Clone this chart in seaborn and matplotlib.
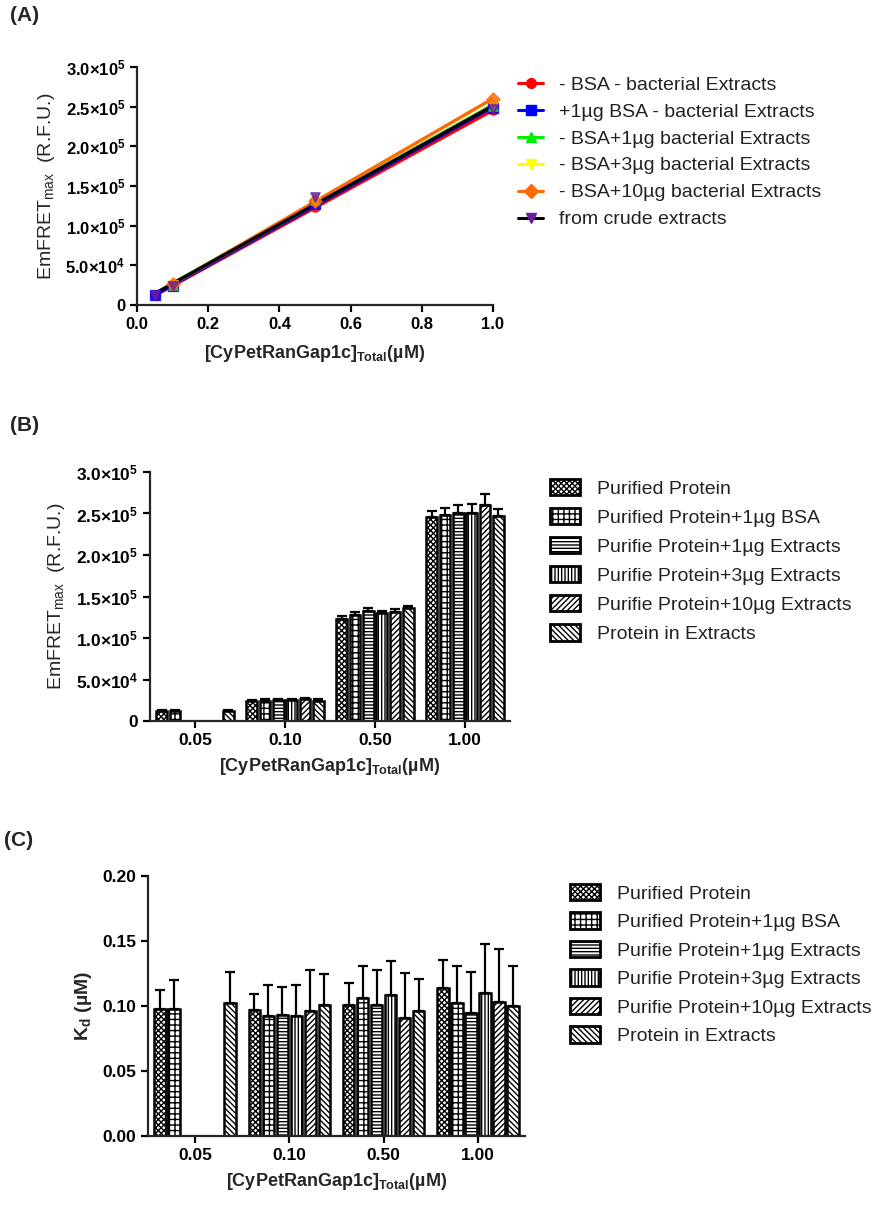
import numpy as np
import pandas as pd
import matplotlib
matplotlib.use("Agg")
import matplotlib.pyplot as plt
from matplotlib.lines import Line2D
from matplotlib.patches import Patch
from matplotlib.container import BarContainer
import seaborn as sns

# ---------------- data ----------------
conc_values = [0.05, 0.10, 0.50, 1.00]
conc_labels = ["0.05", "0.10", "0.50", "1.00"]

line_labels = ["- BSA - bacterial Extracts", "+1µg BSA - bacterial Extracts",
               "- BSA+1µg bacterial Extracts", "- BSA+3µg bacterial Extracts",
               "- BSA+10µg bacterial Extracts", "from crude extracts"]
bar_labels = ["Purified Protein", "Purified Protein+1µg BSA",
              "Purifie Protein+1µg Extracts", "Purifie Protein+3µg Extracts",
              "Purifie Protein+10µg Extracts", "Protein in Extracts"]

nan = np.nan
# EmFRETmax (R.F.U.) means
fret_purified = [12000, 24000, 123000, 245500]
fret_bsa = [12000, 24500, 127500, 248500]
fret_ext1 = [nan, 25000, 132000, 250500]
fret_ext3 = [nan, 25000, 130000, 250500]
fret_ext10 = [nan, 26000, 131000, 260000]
fret_crude = [12000, 24500, 136000, 247000]
# upward SD
fret_err_purified = [1500, 1500, 3000, 7000]
fret_err_bsa = [1500, 1500, 4000, 8000]
fret_err_ext1 = [nan, 1500, 4000, 10000]
fret_err_ext3 = [nan, 1500, 3000, 11000]
fret_err_ext10 = [nan, 1500, 4000, 13000]
fret_err_crude = [1500, 1500, 3000, 8000]

# Kd (µM)
kd_purified = [0.098, 0.097, 0.101, 0.114]
kd_bsa = [0.098, 0.092, 0.106, 0.102]
kd_ext1 = [nan, 0.093, 0.101, 0.0945]
kd_ext3 = [nan, 0.092, 0.1086, 0.110]
kd_ext10 = [nan, 0.0963, 0.0904, 0.1032]
kd_crude = [0.102, 0.1004, 0.0963, 0.0999]
kd_err_purified = [0.0145, 0.012, 0.0164, 0.0215]
kd_err_bsa = [0.022, 0.0242, 0.0251, 0.0285]
kd_err_ext1 = [nan, 0.0216, 0.0264, 0.0313]
kd_err_ext3 = [nan, 0.0242, 0.0259, 0.0374]
kd_err_ext10 = [nan, 0.0316, 0.0351, 0.0403]
kd_err_crude = [0.024, 0.0239, 0.0241, 0.0305]

fret_ticks = [0, 50000, 100000, 150000, 200000, 250000, 300000]
fret_ticklabels = ["0", "5.0×10$^{\\mathbf{4}}$", "1.0×10$^{\\mathbf{5}}$", "1.5×10$^{\\mathbf{5}}$",
                   "2.0×10$^{\\mathbf{5}}$", "2.5×10$^{\\mathbf{5}}$", "3.0×10$^{\\mathbf{5}}$"]
kd_ticks = [0.00, 0.05, 0.10, 0.15, 0.20]
kd_ticklabels = ["0.00", "0.05", "0.10", "0.15", "0.20"]
a_xticks = [0.0, 0.2, 0.4, 0.6, 0.8, 1.0]

# ---------------- style ----------------
sns.set_theme(style="ticks")
plt.rcParams["font.family"] = ["Liberation Sans", "DejaVu Sans"]
plt.rcParams["mathtext.fontset"] = "custom"
plt.rcParams["mathtext.rm"] = "Liberation Sans"
plt.rcParams["mathtext.it"] = "Liberation Sans:italic"
plt.rcParams["mathtext.bf"] = "Liberation Sans:bold"
plt.rcParams["mathtext.sf"] = "Liberation Sans"
plt.rcParams["hatch.linewidth"] = 1.0
plt.rcParams["axes.linewidth"] = 1.6

line_colors = ["#ff0000", "#0000ff", "#00ee00", "#ffff00", "#ff6a00", "#000000"]
marker_colors = ["#ff0000", "#0000ff", "#00ee00", "#ffff00", "#ff6a00", "#6a1fa0"]
markers = ["o", "s", "^", "v", "D", "v"]
hatches = ["xxxxxx", "+++", "-----", "|||||", "//////", "\\\\\\\\\\\\"]

fig = plt.figure(figsize=(8.95, 12.05), dpi=100)
W, H = 895.0, 1205.0


def ax_at(l, t, r, b):
    return fig.add_axes([l / W, 1 - b / H, (r - l) / W, (b - t) / H])


xlabel = "[CyPetRanGap1c]$_{\\mathbf{Total}}$(µM)"


def style_axis(ax, ticksize):
    sns.despine(ax=ax)
    ax.tick_params(axis="both", direction="out", length=5, width=1.6,
                   labelsize=ticksize, colors="black")
    for lab in ax.get_xticklabels() + ax.get_yticklabels():
        lab.set_fontweight("bold")
    ax.set_facecolor("white")


# ---------------- Panel A ----------------
axA = ax_at(137, 67, 493, 305)
series_fret = [fret_purified, fret_bsa, fret_ext1, fret_ext3, fret_ext10, fret_crude]
handlesA = []
for i, ys in enumerate(series_fret):
    df = pd.DataFrame({"x": conc_values, "y": ys}).dropna()
    sns.regplot(data=df, x="x", y="y", ax=axA, ci=None, marker=markers[i],
                color=line_colors[i],
                scatter_kws={"s": 45, "color": marker_colors[i], "zorder": 3, "clip_on": False},
                line_kws={"lw": 2.4, "color": line_colors[i], "zorder": 2})
    handlesA.append(Line2D([0], [0], color=line_colors[i], lw=2.2, marker=markers[i],
                           markersize=7, markerfacecolor=marker_colors[i],
                           markeredgecolor=marker_colors[i], label=line_labels[i]))
axA.set_xlim(0, 1.0)
axA.set_ylim(0, 300000)
axA.set_xticks(a_xticks)
axA.set_xticklabels([f"{v:.1f}" for v in a_xticks])
axA.set_yticks(fret_ticks)
axA.set_yticklabels(fret_ticklabels)
axA.set_xlabel(xlabel, fontsize=13, fontweight="bold", labelpad=8)
axA.set_ylabel("EmFRET$_{\\mathrm{max}}$  (R.F.U.)", fontsize=14, labelpad=6)
style_axis(axA, 12)
fig.legend(handles=handlesA, loc="upper left", bbox_to_anchor=(518 / W, 1 - 76 / H),
           frameon=False, fontsize=14, handlelength=1.3, handletextpad=0.8,
           labelspacing=0.48, borderpad=0, borderaxespad=0, labelcolor="#222222")


# ---------------- bar panels ----------------
def bar_panel(ax, series, errs, ylim, ticks, ticklabels, ylabel, ylabelweight):
    rows = []
    for name, vals in zip(bar_labels, series):
        for c, v in zip(conc_labels, vals):
            if not np.isnan(v):
                rows.append({"conc": c, "group": name, "val": v})
    df = pd.DataFrame(rows)
    sns.barplot(data=df, x="conc", y="val", hue="group", order=conc_labels,
                hue_order=bar_labels, palette=["white"] * 6, saturation=1,
                edgecolor="black", linewidth=1.8, width=0.89, gap=0.18,
                errorbar=None, legend=False, ax=ax)
    bar_conts = [c for c in ax.containers if isinstance(c, BarContainer)]
    for i, cont in enumerate(bar_conts):
        for p in cont.patches:
            p.set_hatch(hatches[i])
            p.set_facecolor("white")
            h = p.get_height()
            if np.isnan(h):
                continue
            cx = p.get_x() + p.get_width() / 2
            cat = int(round(cx))
            e = errs[i][cat]
            ax.errorbar(cx, h, yerr=[[0], [e]], fmt="none", ecolor="black",
                        elinewidth=1.6, capsize=3.5, capthick=1.6, zorder=1)
    ax.set_xlim(-0.5, 3.5)
    ax.set_ylim(*ylim)
    ax.set_yticks(ticks)
    ax.set_yticklabels(ticklabels)
    ax.set_xlabel(xlabel, fontsize=13, fontweight="bold", labelpad=6)
    ax.set_ylabel(ylabel, fontsize=14, fontweight=ylabelweight, labelpad=6)
    style_axis(ax, 12.5)


axB = ax_at(150, 472, 510, 721)
bar_panel(axB, [fret_purified, fret_bsa, fret_ext1, fret_ext3, fret_ext10, fret_crude],
          [fret_err_purified, fret_err_bsa, fret_err_ext1, fret_err_ext3, fret_err_ext10, fret_err_crude],
          (0, 300000), fret_ticks, fret_ticklabels, "EmFRET$_{\\mathrm{max}}$  (R.F.U.)", "normal")

axC = ax_at(148, 876, 525, 1136)
bar_panel(axC, [kd_purified, kd_bsa, kd_ext1, kd_ext3, kd_ext10, kd_crude],
          [kd_err_purified, kd_err_bsa, kd_err_ext1, kd_err_ext3, kd_err_ext10, kd_err_crude],
          (0, 0.2), kd_ticks, kd_ticklabels, "K$_{\\mathbf{d}}$ (µM)", "bold")


def bar_handles():
    return [Patch(facecolor="white", edgecolor="black", hatch=hatches[i], linewidth=2,
                  label=bar_labels[i]) for i in range(6)]


fig.legend(handles=bar_handles(), loc="upper left", bbox_to_anchor=(550 / W, 1 - 479 / H),
           frameon=False, fontsize=14, handlelength=1.55, handleheight=0.9,
           handletextpad=0.85, labelspacing=0.53, borderpad=0, borderaxespad=0,
           labelcolor="#222222")
fig.legend(handles=bar_handles(), loc="upper left", bbox_to_anchor=(570 / W, 1 - 884 / H),
           frameon=False, fontsize=14, handlelength=1.55, handleheight=0.9,
           handletextpad=0.85, labelspacing=0.50, borderpad=0, borderaxespad=0,
           labelcolor="#222222")

# panel labels
for lab, top, left in [("(A)", 6, 10), ("(B)", 416, 10), ("(C)", 831, 4)]:
    fig.text(left / W, 1 - top / H, lab, fontsize=15, fontweight="bold", va="top", ha="left")

fig.savefig("out.png", dpi=100, facecolor="white")
